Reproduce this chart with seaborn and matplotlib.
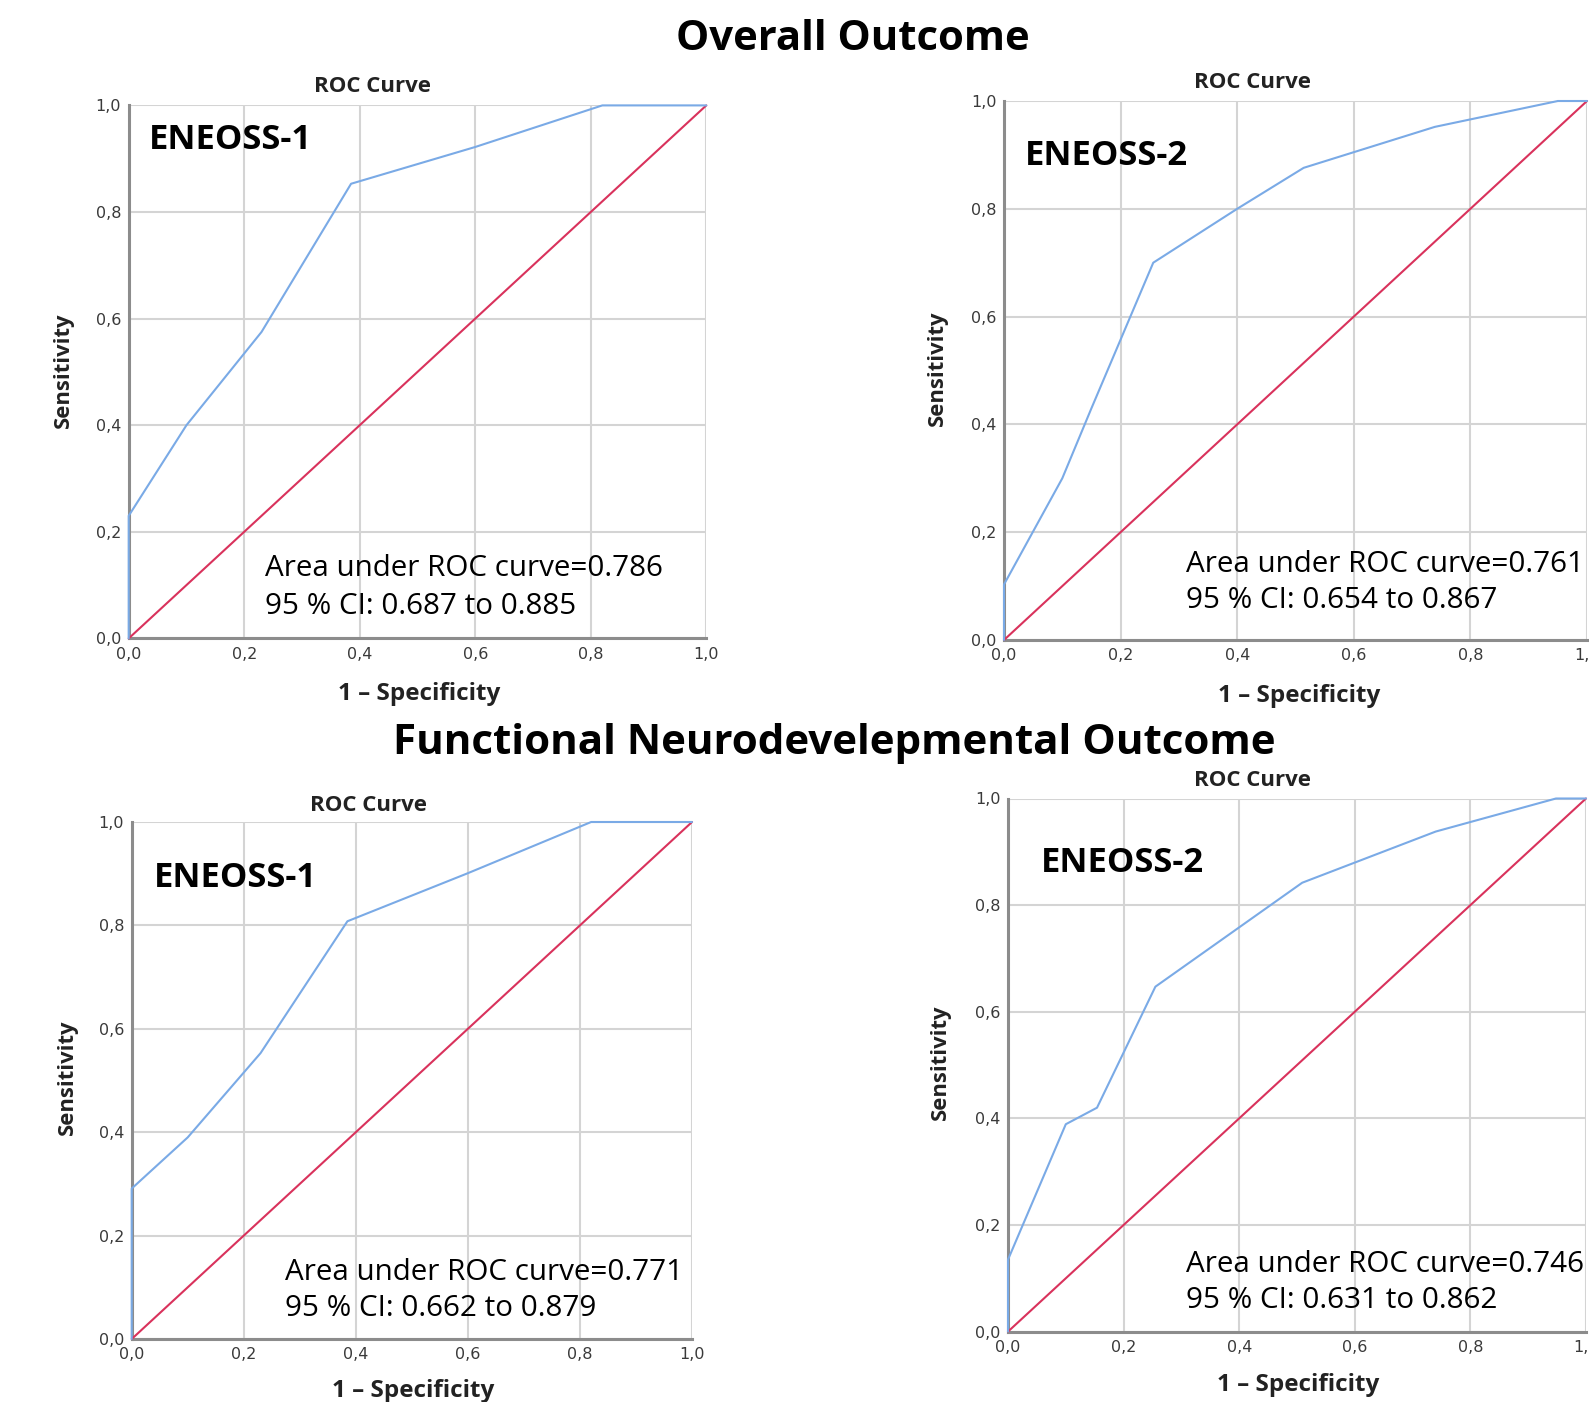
import matplotlib
matplotlib.use("Agg")
import matplotlib.pyplot as plt
import seaborn as sns
import pandas as pd
from matplotlib.ticker import FuncFormatter

# ---------------- data ----------------
fpr_overall_1 = [0.0, 0.0, 0.10, 0.23, 0.385, 0.60, 0.82, 1.0]
tpr_overall_1 = [0.0, 0.23, 0.40, 0.575, 0.853, 0.922, 1.0, 1.0]

fpr_overall_2 = [0.0, 0.0, 0.10, 0.15, 0.256, 0.40, 0.514, 0.739, 0.95, 1.0]
tpr_overall_2 = [0.0, 0.103, 0.30, 0.43, 0.70, 0.80, 0.876, 0.952, 1.0, 1.0]

fpr_func_1 = [0.0, 0.0, 0.10, 0.23, 0.385, 0.60, 0.82, 1.0]
tpr_func_1 = [0.0, 0.291, 0.39, 0.553, 0.808, 0.901, 1.0, 1.0]

fpr_func_2 = [0.0, 0.0, 0.10, 0.154, 0.255, 0.509, 0.74, 0.948, 1.0]
tpr_func_2 = [0.0, 0.135, 0.389, 0.42, 0.647, 0.842, 0.938, 1.0, 1.0]

ref_line = [0.0, 1.0]

panel_labels = ["ENEOSS-1", "ENEOSS-2", "ENEOSS-1", "ENEOSS-2"]
auc_line1 = [
    "Area under ROC curve=0.786",
    "Area under ROC curve=0.761",
    "Area under ROC curve=0.771",
    "Area under ROC curve=0.746",
]
auc_line2 = [
    "95 % CI: 0.687 to 0.885",
    "95 % CI: 0.654 to 0.867",
    "95 % CI: 0.662 to 0.879",
    "95 % CI: 0.631 to 0.862",
]
section_titles = ["Overall Outcome", "Functional Neurodevelepmental Outcome"]
ticks = [0.0, 0.2, 0.4, 0.6, 0.8, 1.0]

# ---------------- style ----------------
sns.set_theme(style="white")
plt.rcParams["font.family"] = ["Open Sans", "DejaVu Sans"]

W, H = 1589, 1402
fig = plt.figure(figsize=(W / 100, H / 100), dpi=100)

def fx(px):
    return px / W

def fy(py):
    return 1 - py / H

# axes rectangles in pixels: left, top, right, bottom
rects = [
    (128.7, 105.4, 706.3, 638.4),
    (1004.0, 101.0, 1587.0, 640.0),
    (131.7, 822.0, 692.0, 1339.0),
    (1008.0, 798.5, 1586.0, 1331.6),
]
curves = [
    (fpr_overall_1, tpr_overall_1),
    (fpr_overall_2, tpr_overall_2),
    (fpr_func_1, tpr_func_1),
    (fpr_func_2, tpr_func_2),
]
roc_title_pos = [(373, 87), (1253, 82), (369, 805), (1253, 781)]
ylabel_pos = [(63, 370), (937, 368), (67, 1077), (940, 1062)]
xlabel_pos = [(419, 694), (1299, 696), (413, 1391), (1298, 1385)]
label_pos = [(149, 140), (1025, 156), (154, 878), (1041, 863)]
auc_pos = [(265, 569, 606), (1186, 564, 601), (285, 1272, 1308), (1186, 1264, 1300)]

blue = "#7aaae6"
red = "#d9325c"
comma = FuncFormatter(lambda v, p: f"{v:.1f}".replace(".", ","))

for i, (l, t, r, b) in enumerate(rects):
    ax = fig.add_axes([fx(l), fy(b), fx(r - l), (b - t) / H])
    fpr, tpr = curves[i]
    df = pd.DataFrame({"fpr": fpr, "tpr": tpr})
    sns.lineplot(data=df, x="fpr", y="tpr", sort=False, estimator=None,
                 color=blue, linewidth=1.5, ax=ax, zorder=4)
    ref = pd.DataFrame({"x": ref_line, "y": ref_line})
    sns.lineplot(data=ref, x="x", y="y", sort=False, estimator=None,
                 color=red, linewidth=1.5, ax=ax, zorder=3)
    for ln in ax.lines:
        ln.set_clip_on(False)
    ax.set_xlim(0, 1)
    ax.set_ylim(0, 1)
    ax.set_xticks(ticks)
    ax.set_yticks(ticks)
    ax.xaxis.set_major_formatter(comma)
    ax.yaxis.set_major_formatter(comma)
    ax.grid(True, color="#d4d4d4", linewidth=1.5)
    ax.set_axisbelow(True)
    for s in ["top", "right"]:
        ax.spines[s].set_visible(False)
    for s in ["left", "bottom"]:
        ax.spines[s].set_color("#8c8c8c")
        ax.spines[s].set_linewidth(2.2)
    ax.tick_params(axis="both", length=0, labelsize=11.5, labelcolor="#3a3a3a",
                   labelfontfamily="DejaVu Sans")
    ax.tick_params(axis="x", pad=6)
    ax.tick_params(axis="y", pad=5.5)
    ax.set_xlabel("")
    ax.set_ylabel("")

    fig.text(fx(roc_title_pos[i][0]), fy(roc_title_pos[i][1]), "ROC Curve",
             ha="center", va="center", fontsize=16, fontweight="bold", color="#222222")
    fig.text(fx(ylabel_pos[i][0]), fy(ylabel_pos[i][1]), "Sensitivity",
             ha="center", va="center", rotation=90, fontsize=15.8,
             fontweight="bold", color="#222222")
    fig.text(fx(xlabel_pos[i][0]), fy(xlabel_pos[i][1]), "1 – Specificity",
             ha="center", va="center", fontsize=17.5, fontweight="bold", color="#222222")
    fig.text(fx(label_pos[i][0]), fy(label_pos[i][1]), panel_labels[i],
             ha="left", va="center", fontsize=24.8, fontweight="bold", color="black")
    x0, y1, y2 = auc_pos[i]
    fig.text(fx(x0), fy(y1), auc_line1[i], ha="left", va="center",
             fontsize=21.3, color="black")
    fig.text(fx(x0), fy(y2), auc_line2[i], ha="left", va="center",
             fontsize=21.3, color="black")

fig.text(fx(853), fy(40), section_titles[0], ha="center", va="center",
         fontsize=30.2, fontweight="bold", color="black")
fig.text(fx(834), fy(744), section_titles[1], ha="center", va="center",
         fontsize=30.3, fontweight="bold", color="black")

fig.savefig("out.png", dpi=100, facecolor="white")
